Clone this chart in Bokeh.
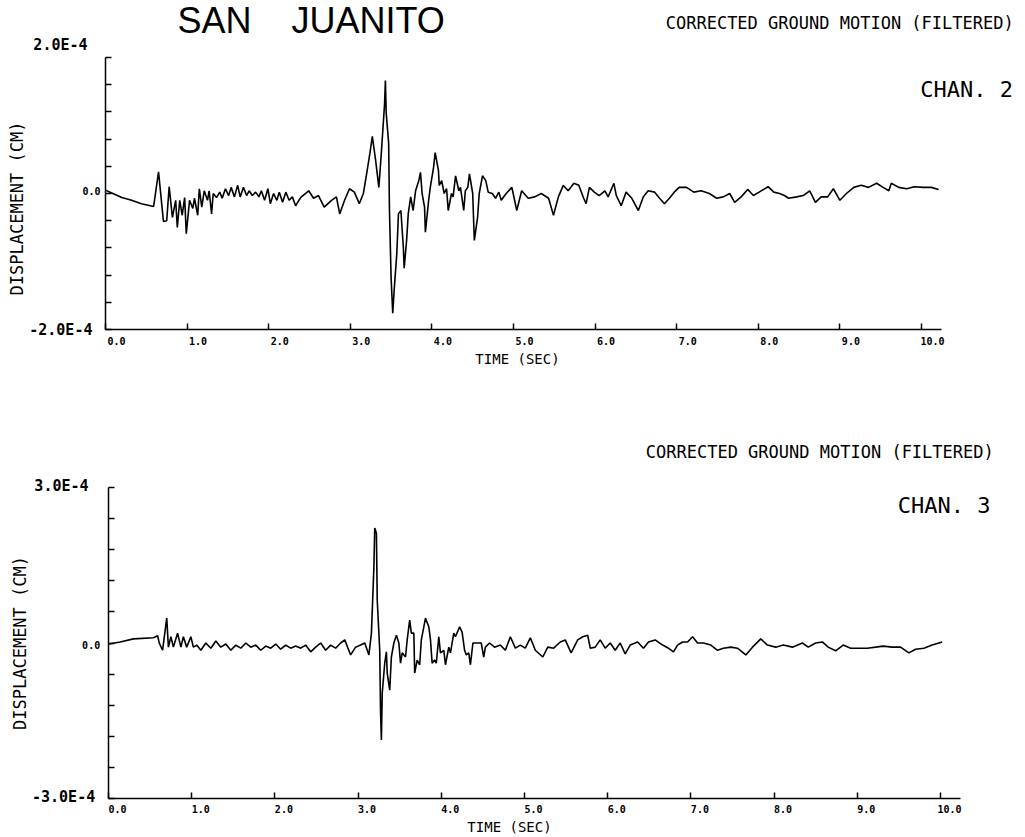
from bokeh.plotting import figure
from bokeh.layouts import column
from bokeh.models import Label, FixedTicker, Range1d, CustomJSTickFormatter, LinearAxis
from bokeh.embed import file_html
from bokeh.resources import INLINE

# ---------------- data ----------------
TITLE = "SAN\u00a0\u00a0\u00a0\u00a0JUANITO"
SUBTITLE = "CORRECTED GROUND MOTION (FILTERED)"
CHAN_LABELS = ["CHAN. 2", "CHAN. 3"]
X_TICKS = [0, 1, 2, 3, 4, 5, 6, 7, 8, 9, 10]
X_TICK_LABELS = ["0.0", "1.0", "2.0", "3.0", "4.0", "5.0", "6.0", "7.0", "8.0", "9.0", "10.0"]
Y2_TICKS = [-2.0, -1.6, -1.2, -0.8, -0.4, 0.0, 0.4, 0.8, 1.2, 1.6, 2.0]
Y2_TICK_LABELS = {2.0: "2.0E-4", 0.0: "0.0", -2.0: "-2.0E-4"}
Y3_TICKS = [-3.0, -2.4, -1.8, -1.2, -0.6, 0.0, 0.6, 1.2, 1.8, 2.4, 3.0]
Y3_TICK_LABELS = {3.0: "3.0E-4", 0.0: "0.0", -3.0: "-3.0E-4"}
X_LABEL = "TIME (SEC)"
Y_LABEL = "DISPLACEMENT (CM)"

# channel 2: time (s), displacement (units of 1E-4 cm)
ch2_time = [0.00, 0.07, 0.20, 0.32, 0.44, 0.59, 0.65, 0.71, 0.75, 0.78, 0.82, 0.86, 0.88, 0.91, 0.94, 0.97, 0.99,
            1.03, 1.07, 1.09, 1.13, 1.15, 1.18, 1.21, 1.25, 1.27, 1.30, 1.32, 1.36, 1.40, 1.43, 1.47, 1.51, 1.54,
            1.58, 1.62, 1.65, 1.69, 1.73, 1.76, 1.80, 1.84, 1.88, 1.91, 1.95, 1.99, 2.02, 2.06, 2.10, 2.13, 2.17,
            2.21, 2.25, 2.29, 2.33, 2.37,
            2.40, 2.49, 2.55, 2.61, 2.68, 2.77, 2.83, 2.87, 2.93, 2.99, 3.05, 3.11, 3.16, 3.20, 3.24, 3.27, 3.31,
            3.35, 3.38, 3.42, 3.43, 3.44, 3.47, 3.48, 3.50, 3.52, 3.54, 3.57, 3.59, 3.62, 3.65, 3.66, 3.69, 3.71,
            3.74, 3.77, 3.80, 3.84, 3.86, 3.88, 3.91, 3.92, 3.96, 3.98, 4.02, 4.04, 4.08, 4.09, 4.12, 4.15, 4.18,
            4.20, 4.24, 4.26, 4.29, 4.33, 4.35, 4.39, 4.41, 4.44, 4.46, 4.50, 4.52, 4.56, 4.58, 4.62, 4.66, 4.69,
            4.74, 4.78, 4.82,
            4.85, 4.91, 4.98, 5.04, 5.10, 5.18, 5.26, 5.34, 5.43, 5.49, 5.55, 5.61, 5.67, 5.74, 5.80, 5.86, 5.89,
            5.93, 5.99, 6.05, 6.12, 6.16, 6.23, 6.26, 6.32, 6.38, 6.45, 6.53, 6.59, 6.65, 6.73, 6.79, 6.85, 6.91,
            6.97, 7.03, 7.12, 7.21, 7.30, 7.40, 7.49, 7.57, 7.65, 7.71, 7.79, 7.87, 7.94, 8.01, 8.12, 8.19, 8.26,
            8.32, 8.37, 8.47, 8.55, 8.63, 8.70, 8.77, 8.85, 8.92, 9.00, 9.08, 9.17, 9.26, 9.35, 9.45, 9.53, 9.60,
            9.63, 9.72, 9.82, 9.91, 10.02, 10.12, 10.21]
ch2_disp = [0.05, 0.01, -0.06, -0.10, -0.15, -0.19, 0.32, -0.41, -0.40, 0.10, -0.35, -0.10, -0.50, -0.10, -0.32,
            -0.06, -0.59, -0.10, -0.22, -0.07, -0.32, 0.07, -0.20, 0.04, -0.10, 0.04, -0.30, 0.00, -0.06, 0.02,
            -0.07, 0.07, -0.03, 0.09, -0.05, 0.12, -0.05, 0.09, -0.03, 0.04, -0.03, 0.02, -0.05, 0.04, -0.10, 0.07,
            -0.15, 0.00, -0.10, 0.02, -0.13, 0.02, -0.10, -0.05, -0.18, -0.10,
            -0.05, 0.04, -0.07, -0.03, -0.20, -0.10, -0.05, -0.30, -0.10, 0.07, 0.02, -0.15, 0.00, 0.29, 0.59, 0.84,
            0.49, 0.09, 0.59, 1.32, 1.66, 1.18, 0.74, -0.25, -1.24, -1.76, -1.38, -0.88, -0.30, -0.25, -0.79, -1.10,
            -0.69, -0.30, -0.05, -0.25, 0.04, 0.19, 0.31, 0.00, -0.20, -0.57, -0.10, 0.09, 0.38, 0.60, 0.34, 0.12,
            0.19, 0.00, 0.07, -0.25, 0.00, -0.05, 0.26, 0.04, 0.09, -0.25, 0.04, 0.09, 0.29, 0.00, -0.69, -0.35,
            0.00, 0.26, 0.19, 0.02, 0.00, -0.07, 0.02,
            -0.10, 0.00, 0.09, -0.25, 0.04, -0.07, -0.05, 0.00, -0.07, -0.32, -0.05, 0.12, 0.04, 0.15, 0.12, -0.07,
            -0.15, 0.09, 0.02, -0.03, 0.04, -0.05, 0.15, -0.03, -0.18, 0.02, -0.07, -0.25, -0.05, 0.04, 0.02, -0.07,
            -0.15, -0.07, 0.02, 0.09, 0.09, 0.02, 0.04, 0.00, -0.07, -0.05, 0.00, -0.13, -0.05, 0.06, -0.03, 0.02,
            0.10, 0.02, 0.00, -0.03, -0.07, -0.05, -0.03, 0.04, -0.13, -0.05, -0.05, 0.07, -0.10, 0.00, 0.09, 0.12,
            0.09, 0.15, 0.09, 0.04, 0.15, 0.09, 0.07, 0.10, 0.09, 0.09, 0.06]

# channel 3: time (s), displacement (units of 1E-4 cm)
ch3_time = [0.00, 0.14, 0.30, 0.54, 0.59, 0.61, 0.65, 0.70, 0.72, 0.75, 0.78, 0.83, 0.87, 0.90, 0.94, 0.99, 1.02,
            1.06, 1.11, 1.17, 1.23, 1.29, 1.35, 1.41, 1.47, 1.53, 1.59, 1.65, 1.71, 1.77, 1.83, 1.89, 1.95, 2.01,
            2.07, 2.13, 2.19, 2.25, 2.31, 2.37, 2.43, 2.49, 2.55, 2.61, 2.67, 2.73, 2.79, 2.84, 2.91, 2.97, 3.03,
            3.08, 3.13, 3.16, 3.19, 3.20, 3.22, 3.23, 3.26, 3.27, 3.28, 3.29, 3.32, 3.34, 3.35, 3.38, 3.40, 3.43,
            3.46, 3.49, 3.51, 3.53, 3.57, 3.59, 3.62, 3.64, 3.67, 3.68, 3.71, 3.74, 3.76, 3.79, 3.81, 3.85, 3.87,
            3.89, 3.92, 3.94, 3.97, 3.99, 4.03, 4.05, 4.09, 4.11, 4.15, 4.17, 4.22, 4.25, 4.28, 4.30, 4.33, 4.35,
            4.38, 4.44, 4.48, 4.51, 4.53, 4.58, 4.64,
            4.71, 4.77, 4.83, 4.89, 4.95, 5.01, 5.07, 5.13, 5.22, 5.28, 5.35, 5.43, 5.49, 5.56, 5.64, 5.70, 5.76,
            5.79, 5.85, 5.91, 5.97, 6.03, 6.09, 6.15, 6.21, 6.27, 6.36, 6.43, 6.49, 6.57, 6.66, 6.73, 6.79, 6.84,
            6.90, 6.96, 7.02, 7.08, 7.15, 7.24, 7.32, 7.39, 7.48, 7.56, 7.66, 7.74, 7.84, 7.92, 8.02, 8.11, 8.22,
            8.34, 8.41, 8.50, 8.58, 8.65, 8.74, 8.83, 8.92, 9.01, 9.12, 9.22, 9.31, 9.42, 9.52, 9.62, 9.70, 9.80,
            9.90, 10.02]
ch3_disp = [-0.02, 0.02, 0.08, 0.10, 0.14, 0.00, -0.14, 0.48, -0.08, 0.12, -0.08, 0.19, -0.08, 0.12, -0.08, 0.12,
            -0.08, -0.04, -0.14, 0.00, -0.10, 0.04, -0.08, -0.02, -0.14, -0.04, -0.10, 0.00, -0.08, -0.04, -0.14,
            -0.06, -0.10, -0.02, -0.12, -0.04, -0.10, -0.06, -0.10, -0.04, -0.17, -0.08, 0.00, -0.14, -0.04, -0.10,
            0.00, 0.06, -0.23, -0.08, -0.04, 0.00, -0.23, 0.19, 1.47, 2.22, 2.12, 0.83, -0.14, -1.35, -1.87, -0.97,
            -0.39, -0.17, -0.58, -0.91, -0.27, 0.00, 0.15, 0.00, -0.39, -0.19, -0.27, 0.06, 0.44, 0.19, 0.19, -0.58,
            -0.33, -0.42, 0.06, 0.31, 0.48, 0.31, 0.06, -0.39, -0.33, -0.39, 0.12, -0.19, -0.14, -0.42, -0.08,
            -0.19, 0.19, 0.12, 0.31, 0.21, -0.14, -0.23, -0.19, -0.42, 0.00, 0.00, 0.00, -0.27, -0.08, 0.00, -0.08,
            -0.04, -0.14, 0.12, -0.10, -0.04, -0.10, 0.10, -0.14, -0.27, -0.08, -0.10, 0.02, 0.06, -0.19, 0.06,
            0.12, 0.15, -0.10, -0.08, 0.06, -0.10, 0.00, -0.14, 0.00, -0.21, -0.04, 0.02, -0.10, 0.02, 0.06, -0.04,
            -0.10, -0.17, -0.04, 0.02, 0.02, 0.12, 0.00, 0.00, -0.04, -0.14, -0.10, -0.08, -0.10, -0.23, -0.08,
            0.08, -0.04, -0.08, -0.04, -0.08, 0.00, -0.08, 0.00, 0.02, -0.08, -0.15, -0.04, -0.10, -0.10, -0.10,
            -0.08, -0.06, -0.08, -0.08, -0.19, -0.12, -0.10, -0.04, 0.02]

MONO = "DejaVu Sans Mono"
INK = "black"
W = 1020


def make_panel(t, d, geom, yticks, ylabels, chan, tp):
    # geom: canvas height, page y of canvas top, page x of t=0, px per second,
    #       page y of zero, px per 1E-4, time extent of the axis, y half range
    H, top, x0, sx, y0, sy, xmax, ylim = geom
    xr = Range1d(-x0 / sx, (W - x0) / sx)
    yr = Range1d((y0 - top - H) / sy, (y0 - top) / sy)
    p = figure(width=W, height=H, x_range=xr, y_range=yr,
               output_backend="svg", toolbar_location=None,
               min_border_left=0, min_border_right=0, min_border_top=0, min_border_bottom=0)
    p.outline_line_color = None
    p.xgrid.visible = False
    p.ygrid.visible = False

    p.line(t, d, line_color=INK, line_width=1.6)

    # x axis: line and tick marks
    xa = p.xaxis[0]
    xa.fixed_location = -ylim
    xa.bounds = (0, xmax)
    xa.ticker = FixedTicker(ticks=X_TICKS)
    xa.formatter = CustomJSTickFormatter(code="return ''")
    xa.major_tick_in = 6
    xa.major_tick_out = 0
    xa.minor_tick_line_color = None
    xa.axis_line_width = 1.5
    xa.axis_line_color = INK
    xa.major_tick_line_width = 1.5
    xa.major_tick_line_color = INK
    xa.major_label_standoff = 0

    # x axis tick labels (printed slightly right of each tick, as in the original plot)
    off = tp["xlaboff"] / sx
    xl = LinearAxis(fixed_location=-ylim, bounds=tp["xlabbounds"],
                    ticker=FixedTicker(ticks=[v + off for v in X_TICKS]),
                    formatter=CustomJSTickFormatter(args=dict(off=off), code="return (tick - off).toFixed(1)"),
                    axis_line_color=None, major_tick_line_color=None, minor_tick_line_color=None,
                    major_tick_in=0, major_tick_out=0, minor_tick_in=0, minor_tick_out=0,
                    major_label_text_font=MONO, major_label_text_font_style="bold",
                    major_label_text_font_size="10px", major_label_text_color=INK,
                    major_label_standoff=tp["xstand"],
                    axis_label=X_LABEL, axis_label_text_font=MONO, axis_label_text_font_style="normal",
                    axis_label_text_font_size="14px", axis_label_text_color=INK,
                    axis_label_standoff=tp["xlabstand"])
    p.add_layout(xl, "below")

    # y axis: line and tick marks
    ya = p.yaxis[0]
    ya.fixed_location = 0
    ya.bounds = (-ylim, ylim)
    ya.ticker = FixedTicker(ticks=yticks)
    ya.formatter = CustomJSTickFormatter(code="return ''")
    ya.major_tick_in = 6
    ya.major_tick_out = 0
    ya.minor_tick_line_color = None
    ya.axis_line_width = 1.5
    ya.axis_line_color = INK
    ya.major_tick_line_width = 1.5
    ya.major_tick_line_color = INK
    ya.major_label_standoff = 0

    # y axis title
    yl = LinearAxis(fixed_location=0, bounds=tp["ylabbounds"], ticker=FixedTicker(ticks=[]),
                    formatter=CustomJSTickFormatter(code="return ''"),
                    axis_line_color=None, major_tick_line_color=None, minor_tick_line_color=None,
                    major_tick_in=0, major_tick_out=0, minor_tick_in=0, minor_tick_out=0,
                    major_label_standoff=0,
                    axis_label=Y_LABEL, axis_label_text_font=MONO, axis_label_text_font_style="normal",
                    axis_label_text_font_size="17px", axis_label_text_color=INK,
                    axis_label_standoff=tp["ylabstand"])
    p.add_layout(yl, "left")

    # y tick value labels
    for val, txt in ylabels.items():
        x, y, size = tp["ytick"][val]
        p.add_layout(Label(x=x, y=y, text=txt, text_font=MONO, text_font_style="bold", text_color=INK,
                           text_font_size=size, text_align="right", text_baseline="middle"))
    sx_, sy_ = tp["sub"]
    p.add_layout(Label(x=sx_, y=sy_, text=SUBTITLE, text_font=MONO, text_font_size="17px", text_color=INK,
                       text_align="right", text_baseline="middle"))
    cx, cy = tp["chan"]
    p.add_layout(Label(x=cx, y=cy, text=chan, text_font=MONO, text_font_size="22px", text_color=INK,
                       text_align="right", text_baseline="middle"))
    return p


p1 = make_panel(ch2_time, ch2_disp, (410, 0, 105, 81.6, 193, 68.0, 10.25, 2.0),
                Y2_TICKS, Y2_TICK_LABELS, CHAN_LABELS[0],
                {"xstand": 7, "xlabstand": 3, "ylabstand": 79, "xlaboff": 11,
                 "xlabbounds": (-0.1, 10.2), "ylabbounds": (-2.44, 2.0),
                 "ytick": {2.0: (-0.22, 2.19, "15px"), 0.0: (-0.06, 0.04, "10px"), -2.0: (-0.16, -2.01, "15px")},
                 "sub": (11.13, 2.51), "chan": (11.12, 1.53)})
p1.add_layout(Label(x=2.52, y=2.54, text=TITLE, text_font="Liberation Sans", text_font_size="36px",
                    text_color=INK, text_align="center", text_baseline="middle"))

p2 = make_panel(ch3_time, ch3_disp, (425, 410, 108, 83.2, 642.5, 51.83, 10.24, 3.0),
                Y3_TICKS, Y3_TICK_LABELS, CHAN_LABELS[1],
                {"xstand": 7, "xlabstand": 2, "ylabstand": 79, "xlaboff": 9,
                 "xlabbounds": (-0.5, 10.15), "ylabbounds": (-3.0, 3.0),
                 "ytick": {3.0: (-0.24, 3.02, "15px"), 0.0: (-0.10, -0.03, "10px"), -3.0: (-0.16, -2.98, "15px")},
                 "sub": (10.64, 3.68), "chan": (10.60, 2.65)})

layout = column(p1, p2)
open("out.html", "w").write(file_html(layout, INLINE))
